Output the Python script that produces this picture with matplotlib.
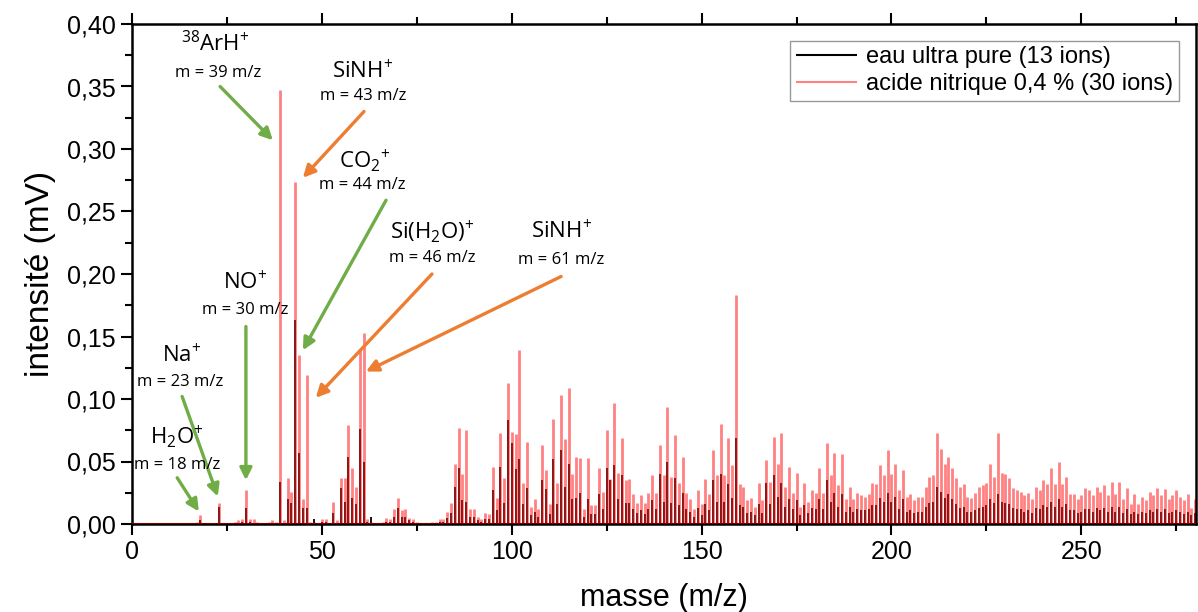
import matplotlib
matplotlib.use("Agg")
import matplotlib.pyplot as plt
from matplotlib.ticker import FuncFormatter, MultipleLocator

# masses 1..280 (m/z), intensities in mV
masses = list(range(1, 281))

acide = [
    0, 0, 0, 0, 0, 0, 0, 0, 0, 0,
    0, 0, 0, .001, .001, .001, .002, .007, .001, 0,
    0, .001, .017, .001, 0, 0, .002, .003, .004, .027,
    .004, .004, .002, .001, .001, .002, .003, .002, .347, .003,
    .037, .026, .274, .135, .020, .119, .002, .002, .001, .004,
    .004, .001, .018, .003, .037, .037, .079, .045, .030, .140,
    .153, .004, .002, .001, .001, .002, .005, .004, .012, .021,
    .011, .012, .005, .004, .002, .001, .001, .001, .002, .002,
    .004, .004, .010, .017, .048, .077, .040, .075, .012, .012,
    .006, .004, .009, .008, .046, .021, .073, .037, .113, .074,
    .072, .139, .033, .066, .014, .020, .012, .063, .043, .016,
    .084, .033, .103, .068, .109, .040, .054, .053, .012, .053,
    .015, .015, .045, .026, .075, .036, .097, .041, .069, .035,
    .036, .024, .017, .023, .017, .025, .039, .025, .063, .039,
    .094, .038, .071, .033, .054, .025, .020, .012, .027, .016,
    .036, .024, .059, .039, .080, .039, .069, .047, .183, .032,
    .030, .019, .021, .014, .033, .019, .051, .034, .070, .048,
    .073, .030, .046, .025, .041, .014, .033, .018, .027, .025,
    .045, .025, .065, .039, .057, .031, .056, .020, .030, .020,
    .025, .023, .022, .024, .033, .032, .047, .039, .059, .040,
    .048, .027, .043, .022, .024, .019, .022, .022, .030, .038,
    .039, .073, .060, .048, .054, .045, .037, .030, .032, .022,
    .021, .025, .030, .031, .033, .048, .038, .073, .041, .040,
    .037, .029, .027, .026, .023, .025, .020, .030, .027, .035,
    .032, .045, .032, .050, .032, .038, .024, .024, .020, .023,
    .029, .027, .023, .030, .026, .031, .023, .034, .024, .034,
    .020, .029, .016, .024, .016, .022, .019, .026, .023, .029,
    .023, .028, .020, .023, .027, .022, .019, .024, .013, .020,
]

eau = [
    0, 0, 0, 0, 0, 0, 0, 0, 0, 0,
    0, 0, 0, 0, 0, 0, .001, .003, 0, 0,
    0, 0, .014, 0, 0, 0, .001, .001, .002, .013,
    .002, .001, .001, 0, 0, .001, .001, .001, .034, .001,
    .020, .017, .163, .057, .013, .013, .001, .004, .001, .002,
    .002, .001, .009, .001, .029, .018, .054, .021, .016, .076,
    .050, .002, .006, .001, .001, .001, .002, .002, .006, .013,
    .006, .006, .003, .002, .001, 0, 0, .001, .001, .001,
    .002, .002, .005, .009, .030, .045, .019, .018, .006, .006,
    .003, .002, .004, .004, .027, .011, .046, .017, .083, .065,
    .044, .052, .016, .029, .007, .010, .006, .035, .028, .008,
    .052, .016, .059, .030, .048, .020, .021, .025, .006, .020,
    .008, .008, .024, .012, .045, .035, .047, .020, .039, .017,
    .017, .012, .009, .011, .008, .012, .019, .012, .040, .018,
    .050, .017, .037, .015, .025, .012, .010, .006, .013, .007,
    .016, .011, .035, .018, .040, .018, .032, .021, .069, .015,
    .014, .009, .010, .007, .016, .009, .033, .016, .039, .022,
    .033, .014, .020, .012, .019, .007, .015, .009, .013, .012,
    .020, .012, .035, .018, .025, .014, .024, .010, .014, .010,
    .012, .011, .011, .012, .015, .015, .021, .018, .025, .018,
    .022, .012, .020, .010, .011, .009, .010, .010, .014, .017,
    .018, .030, .026, .021, .024, .020, .016, .013, .014, .010,
    .010, .011, .013, .014, .015, .020, .017, .024, .018, .017,
    .016, .013, .012, .012, .010, .011, .009, .013, .012, .015,
    .014, .018, .014, .020, .014, .016, .011, .011, .009, .010,
    .012, .012, .010, .013, .011, .013, .010, .014, .010, .014,
    .009, .012, .008, .010, .008, .010, .009, .011, .010, .012,
    .010, .012, .009, .010, .011, .010, .008, .010, .007, .009,
]

# annotated ions
ions = [r"$^{38}$ArH$^{+}$", r"SiNH$^{+}$", r"CO$_2$$^{+}$", r"Si(H$_2$O)$^{+}$",
        r"SiNH$^{+}$", r"NO$^{+}$", r"Na$^{+}$", r"H$_2$O$^{+}$"]
ion_masses = [39, 43, 44, 46, 61, 30, 23, 18]
arrow_cols = ["#70ad47", "#ed7d31", "#70ad47", "#ed7d31",
              "#ed7d31", "#70ad47", "#70ad47", "#70ad47"]
# layout: name pos, m/z label pos, arrow start, arrow end
name_pos = [(21.9, 0.384), (60.8, 0.362), (61.3, 0.291), (79.0, 0.234),
            (113.0, 0.234), (29.8, 0.193), (13.2, 0.135), (11.9, 0.070)]
mz_pos = [(22.6, 0.361), (60.8, 0.342), (60.6, 0.271), (79.0, 0.213),
          (113.0, 0.211), (29.8, 0.171), (12.6, 0.114), (11.9, 0.047)]
arr_start = [(23.2, 0.350), (61.1, 0.330), (66.9, 0.259), (79.0, 0.200),
             (113.0, 0.198), (30.0, 0.158), (13.2, 0.102), (11.9, 0.037)]
arr_end = [(37.1, 0.307), (45.0, 0.277), (45.0, 0.139), (48.4, 0.101),
           (61.6, 0.122), (30.0, 0.035), (22.6, 0.022), (17.6, 0.010)]

plt.rcParams["font.family"] = ["Liberation Sans", "DejaVu Sans"]
plt.rcParams["mathtext.fontset"] = "custom"
plt.rcParams["mathtext.rm"] = "Open Sans"
plt.rcParams["mathtext.it"] = "Open Sans"

fig = plt.figure(figsize=(11.98, 6.12), dpi=100)
ax = fig.add_axes([132 / 1198, 88 / 612, 1064 / 1198, 500 / 612])

ax.vlines(masses, 0, eau, color="black", lw=1.3, label="eau ultra pure (13 ions)")
ax.vlines(masses, 0, acide, color="#ff1a1a", alpha=0.55, lw=2.0,
          label="acide nitrique 0,4 % (30 ions)")
ax.axhline(0, color="#7a0000", lw=1.5, zorder=3)

for i in range(len(ions)):
    ax.text(name_pos[i][0], name_pos[i][1], ions[i], fontsize=16,
            family="Open Sans", ha="center", va="center")
    ax.text(mz_pos[i][0], mz_pos[i][1], "m = %d m/z" % ion_masses[i],
            fontsize=12, family="Open Sans", ha="center", va="center")
    ax.annotate("", xy=arr_end[i], xytext=arr_start[i],
                arrowprops=dict(arrowstyle="-|>", color=arrow_cols[i], lw=2.4,
                                mutation_scale=18, shrinkA=0, shrinkB=0))

ax.set_xlim(0, 280.2)
ax.set_ylim(0, 0.40)
ax.xaxis.set_major_locator(MultipleLocator(50))
ax.xaxis.set_minor_locator(MultipleLocator(25))
ax.yaxis.set_major_locator(MultipleLocator(0.05))
ax.yaxis.set_minor_locator(MultipleLocator(0.025))
ax.yaxis.set_major_formatter(FuncFormatter(lambda v, p: ("%.2f" % v).replace(".", ",")))
ax.tick_params(which="both", direction="out", width=1.5, labelsize=18, top=True)
ax.tick_params(which="major", length=8)
ax.tick_params(which="minor", length=5)
for s in ax.spines.values():
    s.set_linewidth(1.8)

ax.set_xlabel("masse (m/z)", fontsize=22, labelpad=14)
ax.set_ylabel("intensité (mV)", fontsize=24, labelpad=8)

leg = ax.legend(loc="upper right", fontsize=17, fancybox=False, edgecolor="#808080",
                handlelength=2.6, handletextpad=0.4, borderaxespad=0.7,
                borderpad=0.25, labelspacing=0.2)
for h in leg.get_lines():
    h.set_linewidth(1.5)

fig.savefig("out.png", dpi=100)
